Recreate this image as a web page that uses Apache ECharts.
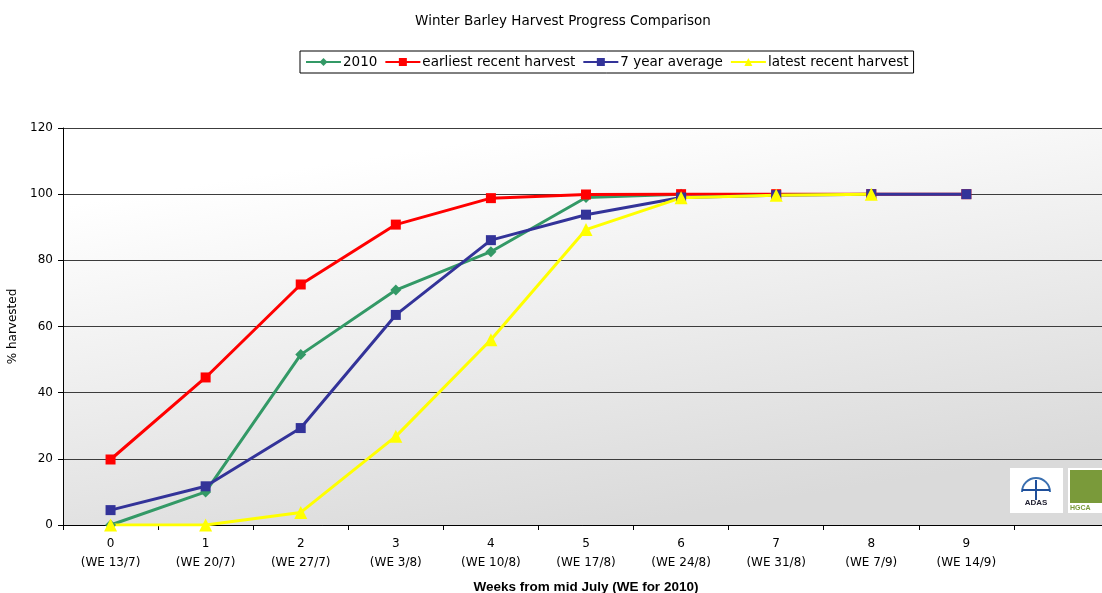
<!DOCTYPE html>
<html><head><meta charset="utf-8">
<script src="https://cdn.jsdelivr.net/npm/echarts@6/dist/echarts.min.js"></script>
<style>html,body{margin:0;padding:0;background:#fff}#c{width:1102px;height:593px}</style>
</head><body><div id="c"></div>
<script>
const weeks = ['0','1','2','3','4','5','6','7','8','9',''];
const weekEnding = ['(WE 13/7)','(WE 20/7)','(WE 27/7)','(WE 3/8)','(WE 10/8)','(WE 17/8)','(WE 24/8)','(WE 31/8)','(WE 7/9)','(WE 14/9)',''];
const s2010 = [0, 10, 51.5, 71, 82.6, 99, 100];
const earliest = [19.8, 44.6, 72.7, 90.8, 98.8, 99.9, 100, 100, 100, 100];
const avg7 = [4.5, 11.7, 29.3, 63.5, 86.1, 93.8, 99, 99.7, 100, 100];
const latest = [0, 0, 3.8, 26.8, 56, 89.3, 98.9, 99.7, 100];
const yTicks = [0, 20, 40, 60, 80, 100, 120];

const font = '"DejaVu Sans", sans-serif';
const chart = echarts.init(document.getElementById('c'));
function ser(name, data, color, symbol, size) {
  return {name, type:'line', data, symbol, symbolSize:size, showSymbol:true,
    lineStyle:{color, width:3}, itemStyle:{color}, z: 2};
}
chart.setOption({
  animation:false,
  backgroundColor:'#fff',
  title:[
    {text:'Winter Barley Harvest Progress Comparison', left:558, top:9, textAlign:'center',
     textStyle:{fontFamily:font, fontSize:13.5, fontWeight:'normal', color:'#000'}}
  ],
  legend:{
    top:51, left:300, itemGap:7, itemWidth:35, itemHeight:10,
    padding:[4,5,4,5], borderColor:'#000', borderWidth:1,
    textStyle:{fontFamily:font, fontSize:13.5, color:'#000', padding:[0,0,0,-3]},
    data:['2010','earliest recent harvest','7 year average','latest recent harvest']
  },
  grid:{left:63, top:128, height:397, width:1046, outerBoundsMode:'none', containLabel:false,
    show:true, borderWidth:0,
    backgroundColor:{type:'linear', x:0.47, y:0, x2:0.53, y2:1, colorStops:[{offset:0,color:'#ffffff'},{offset:1,color:'#dadada'}]}},
  xAxis:{type:'category', data:weeks, boundaryGap:true,
    name:'Weeks from mid July (WE for 2010)', nameLocation:'middle', nameGap:55,
    nameTextStyle:{fontFamily:'"Liberation Sans", Arial, sans-serif', fontSize:13.5, fontWeight:'bold', color:'#000'},
    axisLine:{lineStyle:{color:'#000', width:1}},
    axisTick:{show:true, length:5, lineStyle:{color:'#000'}, interval:0},
    axisLabel:{interval:0, fontFamily:font, fontSize:12, color:'#000', lineHeight:19, margin:9,
      formatter:(v, i)=> v === '' ? '' : v + '\n' + weekEnding[i]},
    splitLine:{show:false}},
  yAxis:{type:'value', min:yTicks[0], max:yTicks[yTicks.length-1], interval:20,
    name:'% harvested', nameLocation:'middle', nameGap:42, nameRotate:90,
    nameTextStyle:{fontFamily:font, fontSize:12, color:'#000'},
    axisLine:{show:true, lineStyle:{color:'#000'}},
    axisTick:{show:true, length:5, lineStyle:{color:'#000'}},
    axisLabel:{fontFamily:font, fontSize:12, color:'#000', margin:10},
    splitLine:{show:true, lineStyle:{color:'#3c3c3c', width:1}}},
  series:[
    ser('2010', s2010, '#339966', 'diamond', 11),
    ser('earliest recent harvest', earliest, '#ff0000', 'rect', 10),
    ser('7 year average', avg7, '#333399', 'rect', 10),
    ser('latest recent harvest', latest, '#ffff00', 'triangle', 13)
  ],
  graphic:[
    {type:'rect', shape:{x:1010, y:468, width:53, height:45}, style:{fill:'#fff'}, z:10},
    {type:'arc', shape:{cx:1036, cy:492, r:14, startAngle:Math.PI, endAngle:2*Math.PI}, style:{stroke:'#3a6fb0', lineWidth:2, fill:null}, z:11},
    {type:'line', shape:{x1:1022, y1:490, x2:1050, y2:490}, style:{stroke:'#1f4f9a', lineWidth:2}, z:11},
    {type:'line', shape:{x1:1036, y1:480, x2:1036, y2:500}, style:{stroke:'#1f4f9a', lineWidth:2}, z:11},
    {type:'text', style:{x:1036, y:499, text:'ADAS', fill:'#223', font:'bold 8px "Liberation Sans"', align:'center'}, z:11},
    {type:'rect', shape:{x:1068, y:468, width:40, height:45}, style:{fill:'#fff'}, z:10},
    {type:'rect', shape:{x:1070, y:470, width:36, height:33}, style:{fill:'#7a9a3a'}, z:11},
    {type:'text', style:{x:1070, y:505, text:'HGCA', fill:'#7a9a3a', font:'bold 7px "Liberation Sans"'}, z:11}
  ]
});
</script></body></html>
